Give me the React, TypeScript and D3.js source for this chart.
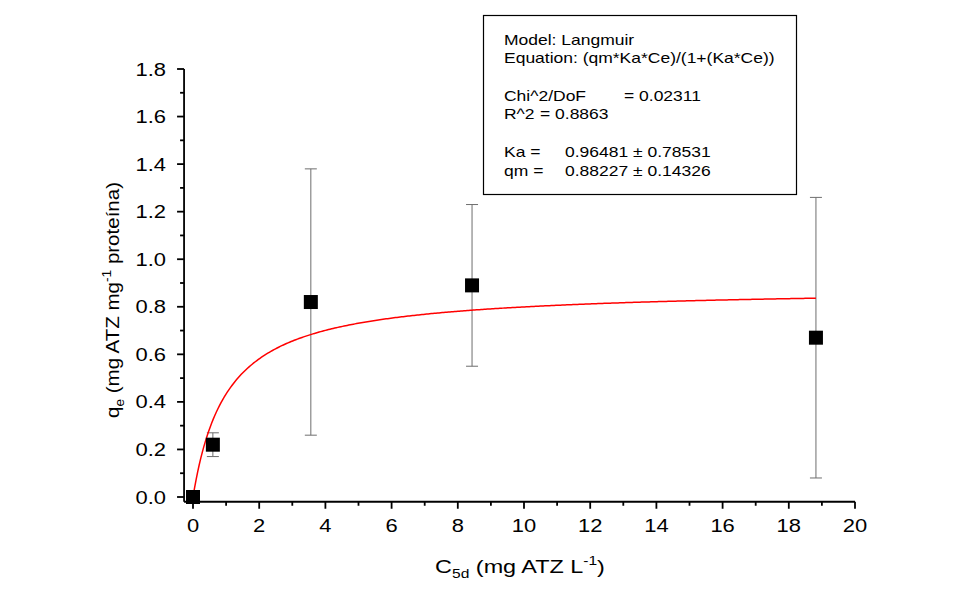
import React from "react";
import * as d3 from "d3";

// Langmuir isotherm data: equilibrium concentration vs adsorbed amount
const ceValues = [0, 0.6, 3.56, 8.43, 18.82];
const qeValues = [0, 0.22, 0.82, 0.89, 0.67];
const qeErrors = [0, 0.05, 0.56, 0.34, 0.59];

// Fitted parameters reported in the fit box
const Ka = 0.96481;
const qm = 0.88227;

const xTicks = [0, 2, 4, 6, 8, 10, 12, 14, 16, 18, 20];
const yTicks = [0, 0.2, 0.4, 0.6, 0.8, 1.0, 1.2, 1.4, 1.6, 1.8];

const fitLines = [
  ["Model: Langmuir", ""],
  ["Equation: (qm*Ka*Ce)/(1+(Ka*Ce))", ""],
  ["Chi^2/DoF", "= 0.02311"],
  ["R^2", "=  0.8863"],
  ["Ka =", "0.96481 \u00b1 0.78531"],
  ["qm =", "0.88227 \u00b1 0.14326"],
];

const W = 974;
const H = 594;
const font = "'Liberation Sans', Arial, sans-serif";
const SX = 1.22; // horizontal widening of the lettering

export default function App() {
  const x = d3.scaleLinear().domain([0, 20]).range([193, 855]);
  const y = d3.scaleLinear().domain([0, 1.8]).range([497, 69]);
  const x0 = x(-0.27);
  const yBase = y(-0.02);

  const langmuir = (c: number) => (qm * Ka * c) / (1 + Ka * c);
  const cMax = ceValues[ceValues.length - 1];
  const fitPts = d3.range(0, 401).map((i) => (cMax * i) / 400);
  const line = d3
    .line<number>()
    .x((c) => x(c))
    .y((c) => y(langmuir(c)));

  const xMinor = d3.range(1, 20, 2);
  const yMinor = d3.range(0.1, 1.8, 0.2);

  const boxLines = [45, 63, 101, 119, 157, 176];
  const valueX = [0, 0, 624, 540, 565, 565];

  const wide = (tx: number, ty: number, s = SX) => `translate(${tx},${ty}) scale(${s},1)`;

  return (
    <svg width={W} height={H} style={{ position: "absolute", left: 0, top: 0, background: "#fff" }} fontFamily={font}>
      <rect width={W} height={H} fill="#fff" />

      {/* Fit box */}
      <rect x={483.5} y={15.5} width={313} height={179} fill="#fff" stroke="#000" strokeWidth={1.2} />
      {fitLines.map((l, i) => (
        <g key={i} fontSize={14} fill="#000">
          <text transform={wide(504, boxLines[i], 1.25)}>{l[0]}</text>
          {l[1] && <text transform={wide(valueX[i], boxLines[i], 1.25)}>{l[1]}</text>}
        </g>
      ))}

      {/* Error bars */}
      {ceValues.map((c, i) =>
        qeErrors[i] > 0 ? (
          <g key={"e" + i} stroke="#6e6e6e" strokeWidth={1}>
            <line x1={x(c)} x2={x(c)} y1={y(qeValues[i] - qeErrors[i])} y2={y(qeValues[i] + qeErrors[i])} />
            <line x1={x(c) - 6} x2={x(c) + 6} y1={y(qeValues[i] - qeErrors[i])} y2={y(qeValues[i] - qeErrors[i])} />
            <line x1={x(c) - 6} x2={x(c) + 6} y1={y(qeValues[i] + qeErrors[i])} y2={y(qeValues[i] + qeErrors[i])} />
          </g>
        ) : null
      )}

      {/* Fitted curve */}
      <path d={line(fitPts) || ""} fill="none" stroke="#ff0000" strokeWidth={1.5} />

      {/* Data markers */}
      {ceValues.map((c, i) => (
        <rect key={"p" + i} x={x(c) - 7} y={y(qeValues[i]) - 7} width={14} height={14} fill="#000" />
      ))}

      {/* Axes */}
      <g stroke="#000" strokeWidth={1.8}>
        <line x1={x0} x2={x0} y1={y(1.8)} y2={yBase} />
        <line x1={x0} x2={x(20)} y1={yBase} y2={yBase} />
        {yTicks.map((t) => (
          <line key={"yt" + t} x1={x0 - 7} x2={x0} y1={y(t)} y2={y(t)} />
        ))}
        {yMinor.map((t) => (
          <line key={"ym" + t} x1={x0 - 4} x2={x0} y1={y(t)} y2={y(t)} />
        ))}
        {xTicks.map((t) => (
          <line key={"xt" + t} x1={x(t)} x2={x(t)} y1={yBase} y2={yBase + 7} />
        ))}
        {xMinor.map((t) => (
          <line key={"xm" + t} x1={x(t)} x2={x(t)} y1={yBase} y2={yBase + 4} />
        ))}
      </g>

      {yTicks.map((t) => (
        <text key={"yl" + t} transform={wide(x0 - 18, y(t) + 6.5)} fontSize={18} textAnchor="end" fill="#000">
          {d3.format(".1f")(t)}
        </text>
      ))}
      {xTicks.map((t) => (
        <text key={"xl" + t} transform={wide(x(t), 532)} fontSize={18} textAnchor="middle" fill="#000">
          {t}
        </text>
      ))}

      {/* Axis titles */}
      <text transform={wide(520, 573, 1.3)} fontSize={18} textAnchor="middle" fill="#000">
        <tspan>C</tspan>
        <tspan fontSize={12} dy={5}>5d</tspan>
        <tspan dy={-5}> (mg ATZ L</tspan>
        <tspan fontSize={12} dy={-8}>-1</tspan>
        <tspan dy={8}>)</tspan>
      </text>
      <text transform="translate(119,300) rotate(-90) scale(1.14,1)" fontSize={18} textAnchor="middle" fill="#000">
        <tspan>q</tspan>
        <tspan fontSize={12} dy={5}>e</tspan>
        <tspan dy={-5}> (mg ATZ mg</tspan>
        <tspan fontSize={12} dy={-8}>-1</tspan>
        <tspan dy={8}> proteína)</tspan>
      </text>
    </svg>
  );
}
